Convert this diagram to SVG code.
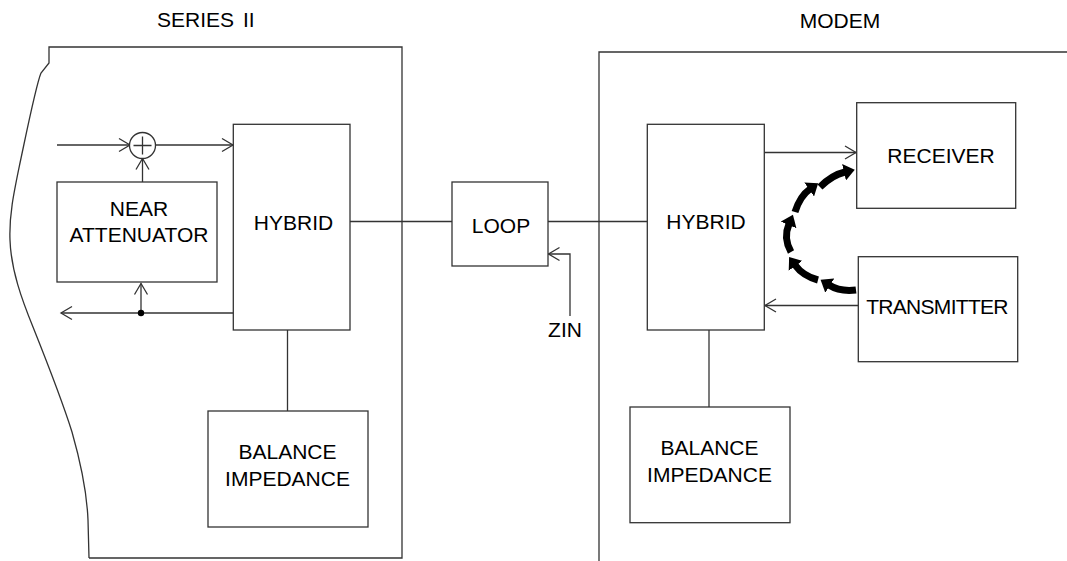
<svg xmlns="http://www.w3.org/2000/svg" width="1067" height="561" viewBox="0 0 1067 561">
<style>
  .box { fill: #fff; stroke: #333; stroke-width: 1.3; }
  .ln { fill: none; stroke: #333; stroke-width: 1.3; }
  .lbl { font-family: "Liberation Sans", Arial, sans-serif; font-size: 21px; fill: #000; text-anchor: middle; }
  .thick { fill: none; stroke: #000; stroke-width: 7; }
</style>
<defs>
  <marker id="oa" markerUnits="userSpaceOnUse" markerWidth="14" markerHeight="16" refX="12" refY="8" orient="auto" viewBox="0 0 14 16">
    <path d="M1,1.5 L12,8 L1,14.5" fill="none" stroke="#333" stroke-width="1.3"/>
  </marker>
  <marker id="fat" markerUnits="userSpaceOnUse" markerWidth="12" markerHeight="17" refX="1" refY="8.5" orient="auto" viewBox="0 0 12 17">
    <path d="M0,0 L11,8.5 L0,17 z" fill="#000"/>
  </marker>
</defs>
<rect width="1067" height="561" fill="#fff"/>

<g id="frame-series">
  <path class="ln" d="M89,558 H402 V47 H49 V63 L41,73 C36,85 26,135 20,163 C14,192 9,215 10,240 C11,270 22,300 33,327 C45,357 62,400 72,432 C80,460 87,495 88,520 L89,558"/>
  <text class="lbl" x="157" y="27" style="text-anchor:start">SERIES<tspan x="243">II</tspan></text>
</g>
<g id="frame-modem">
  <path class="ln" d="M1067,52 H599 V561"/>
  <text class="lbl" x="840" y="28">MODEM</text>
</g>

<g id="connectors">
  <!-- adder in/out -->
  <line class="ln" x1="57" y1="145" x2="130" y2="145" marker-end="url(#oa)"/>
  <line class="ln" x1="155.5" y1="145" x2="233" y2="145" marker-end="url(#oa)"/>
  <line class="ln" x1="142.5" y1="182" x2="142.5" y2="158.5" marker-end="url(#oa)"/>
  <!-- hybrid output to left -->
  <line class="ln" x1="233" y1="313" x2="61" y2="313" marker-end="url(#oa)"/>
  <line class="ln" x1="141" y1="313" x2="141" y2="283.5" marker-end="url(#oa)"/>
  <circle cx="141" cy="313" r="3.2" fill="#000"/>
  <!-- hybrid to balance (left) -->
  <line class="ln" x1="287.5" y1="330" x2="287.5" y2="411"/>
  <!-- hybrid to loop, loop to modem hybrid -->
  <line class="ln" x1="350" y1="221.5" x2="452" y2="221.5"/>
  <line class="ln" x1="548" y1="221.5" x2="647.3" y2="221.5"/>
  <!-- ZIN -->
  <path class="ln" d="M570,316 V254 H548.5" marker-end="url(#oa)"/>
  <!-- modem hybrid to receiver -->
  <line class="ln" x1="764.3" y1="152.5" x2="856" y2="152.5" marker-end="url(#oa)"/>
  <!-- transmitter to modem hybrid -->
  <line class="ln" x1="858.3" y1="305.5" x2="765" y2="305.5" marker-end="url(#oa)"/>
  <!-- modem hybrid to balance -->
  <line class="ln" x1="709" y1="330" x2="709" y2="407"/>
  <!-- echo path (thick dashed curved arrows) -->
  <path class="thick" d="M856,290 Q840,292 829,285" marker-end="url(#fat)"/>
  <path class="thick" d="M818,280 Q803,276 795,265" marker-end="url(#fat)"/>
  <path class="thick" d="M791,252 Q783,238 789,224" marker-end="url(#fat)"/>
  <path class="thick" d="M795,212 Q800,196 810,189" marker-end="url(#fat)"/>
  <path class="thick" d="M820,187 Q832,175 845,172" marker-end="url(#fat)"/>
</g>

<g id="adder">
  <circle class="box" cx="142.5" cy="145.5" r="13"/>
  <path class="ln" d="M133.5,145.5 H151.5 M142.5,136.5 V154.5"/>
</g>

<g id="near-attenuator">
  <rect class="box" x="57" y="182" width="160" height="100"/>
  <text class="lbl" x="139" y="216">NEAR</text>
  <text class="lbl" x="139" y="242">ATTENUATOR</text>
</g>

<g id="hybrid-left">
  <rect class="box" x="233.3" y="124.3" width="116.7" height="205.7"/>
  <text class="lbl" x="293.5" y="230">HYBRID</text>
</g>

<g id="balance-left">
  <rect class="box" x="208" y="411" width="160" height="116"/>
  <text class="lbl" x="287.5" y="459">BALANCE</text>
  <text class="lbl" x="287.5" y="486">IMPEDANCE</text>
</g>

<g id="loop">
  <rect class="box" x="452" y="182" width="96" height="84"/>
  <text class="lbl" x="501" y="233">LOOP</text>
</g>

<g id="zin">
  <text class="lbl" x="565" y="337">ZIN</text>
</g>

<g id="hybrid-right">
  <rect class="box" x="647.3" y="124.3" width="117" height="205.7"/>
  <text class="lbl" x="706" y="229">HYBRID</text>
</g>

<g id="receiver">
  <rect class="box" x="856.7" y="102.7" width="159" height="105.6"/>
  <text class="lbl" x="941" y="163">RECEIVER</text>
</g>

<g id="transmitter">
  <rect class="box" x="858.3" y="256.7" width="159.4" height="105"/>
  <text class="lbl" x="937" y="313.5" style="letter-spacing:-0.7px">TRANSMITTER</text>
</g>

<g id="balance-right">
  <rect class="box" x="630" y="407" width="160" height="115.7"/>
  <text class="lbl" x="709.5" y="455">BALANCE</text>
  <text class="lbl" x="709.5" y="482">IMPEDANCE</text>
</g>
</svg>
